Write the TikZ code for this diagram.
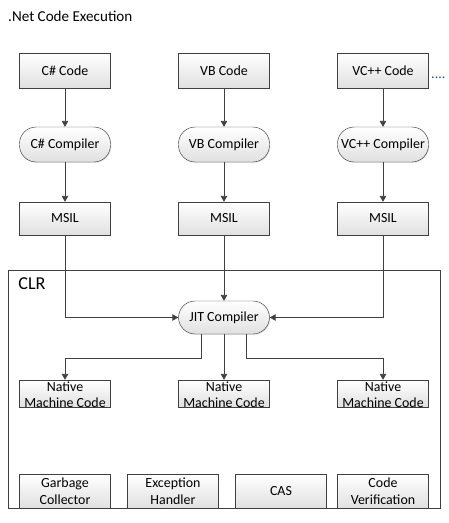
\documentclass[tikz,border=0pt]{standalone}
\usepackage{fontspec}
\setmainfont{Carlito}
\definecolor{lnGray}{RGB}{64,64,64}
\definecolor{dotBlue}{RGB}{30,70,130}
\usetikzlibrary{arrows.meta,positioning,calc,shadows}
% two lines, set a little low in a flat box
\newcommand{\lowpair}[2]{\raisebox{-5.5pt}[0pt][0pt]{\begin{tabular}{@{}c@{}}#1\\[-0.5pt]#2\end{tabular}}}

\begin{document}
\begin{tikzpicture}[x=0.03cm, y=-0.03cm,
  box/.style={draw=lnGray, top color=white, bottom color=black!12, minimum width=2.73cm, minimum height=1.05cm, align=center, inner sep=1pt,
    font=\fontsize{11.9}{14.2}\selectfont, drop shadow={shadow xshift=0.7pt, shadow yshift=-0.7pt, opacity=0.25}},
  compbox/.style={box, rounded corners=0.5cm},
  natbox/.style={box, minimum height=0.81cm, inner sep=0pt},
  svcbox/.style={box, minimum height=1.02cm},
  arr/.style={-{Triangle[width=5.5pt,length=5pt]}, lnGray, line width=0.6pt}]
  \useasboundingbox (0,0) rectangle (449,523);

  %% title
  \node[anchor=west, inner sep=0pt, font=\fontsize{12.9}{15}\selectfont] (title) at (8,16) {.Net Code Execution};

  %% CLR frame
  \node[draw=lnGray, line width=0.6pt, minimum width=12.96cm, minimum height=7.14cm, anchor=north west, inner sep=0pt] (clr) at (8,270) {};
  \node[font=\fontsize{15.5}{18}\selectfont, inner sep=0pt] (clrlbl) at (32,284) {CLR};

  %% source code
  \node[box] (cs_code) at (65,70.5)  {C\# Code};
  \node[box] (vb_code) at (224,70.5) {VB Code};
  \node[box] (vc_code) at (383,70.5) {VC++ Code};
  \node[font=\fontsize{11.9}{14}\selectfont, text=dotBlue, anchor=west, inner sep=0pt] (more) at (431,78) {....};

  %% compilers
  \node[compbox] (cs_comp) at (65,144.5)  {C\# Compiler};
  \node[compbox] (vb_comp) at (224,144.5) {VB Compiler};
  \node[compbox] (vc_comp) at (383,144.5) {VC++ Compiler};

  %% MSIL
  \node[box, minimum height=0.99cm] (cs_msil) at (65,218.5)  {MSIL};
  \node[box, minimum height=0.99cm] (vb_msil) at (224,218.5) {MSIL};
  \node[box, minimum height=0.99cm] (vc_msil) at (383,218.5) {MSIL};

  %% JIT
  \node[compbox, minimum height=0.99cm] (jit) at (224,317.5) {JIT Compiler};

  %% native code
  \node[natbox] (cs_nat) at (65,393.5)  {\lowpair{Native}{Machine Code}};
  \node[natbox] (vb_nat) at (224,393.5) {\lowpair{Native}{Machine Code}};
  \node[natbox] (vc_nat) at (383,393.5) {\lowpair{Native}{Machine Code}};

  %% runtime services
  \node[svcbox] (gc)  at (65,491)    {Garbage\\Collector};
  \node[svcbox] (exc) at (173,491)   {Exception\\Handler};
  \node[svcbox] (cas) at (281,491)   {CAS};
  \node[svcbox] (ver) at (383,491)   {Code\\Verification};

  \draw[arr] (cs_code) -- (cs_comp);
  \draw[arr] (vb_code) -- (vb_comp);
  \draw[arr] (vc_code) -- (vc_comp);
  \draw[arr] (cs_comp) -- (cs_msil);
  \draw[arr] (vb_comp) -- (vb_msil);
  \draw[arr] (vc_comp) -- (vc_msil);
  \draw[arr] (cs_msil.south) |- (jit.west);
  \draw[arr] (vb_msil) -- (jit);
  \draw[arr] (vc_msil.south) |- (jit.east);
  \draw[arr] ([xshift=-0.69cm]jit.south) -- ++(0,-0.72cm) -| (cs_nat.north);
  \draw[arr] (jit) -- (vb_nat);
  \draw[arr] ([xshift=0.66cm]jit.south) -- ++(0,-0.72cm) -| (vc_nat.north);
\end{tikzpicture}
\end{document}
